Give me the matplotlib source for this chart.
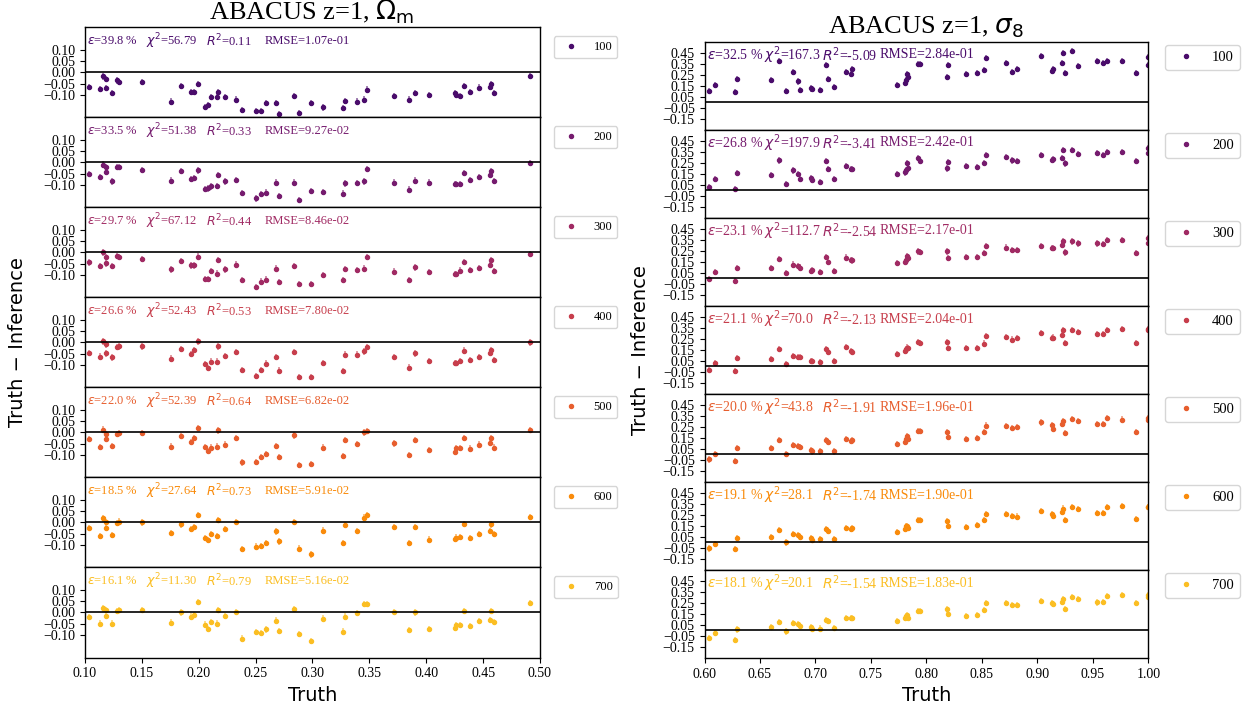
import numpy as np
import matplotlib.pyplot as plt
import matplotlib as mpl

plt.rcParams['font.family'] = 'serif'
plt.rcParams['font.serif'] = ['Liberation Serif', 'DejaVu Serif']
plt.rcParams['mathtext.fontset'] = 'dejavusans'

#%% Data
labels = ['100', '200', '300', '400', '500', '600', '700']

truth_om = [0.1032, 0.1133, 0.1162, 0.1186, 0.1189, 0.1233, 0.1283, 0.1298, 0.1499, 0.1758,
            0.1841, 0.1929, 0.1959, 0.1994, 0.2059, 0.2077, 0.2109, 0.2162, 0.2171, 0.2233,
            0.2330, 0.2378, 0.2507, 0.2549, 0.2593, 0.2678, 0.2705, 0.2841, 0.2882, 0.2985,
            0.3088, 0.3268, 0.3283, 0.3389, 0.3454, 0.3475, 0.3720, 0.3847, 0.3903, 0.4021,
            0.4257, 0.4262, 0.4295, 0.4336, 0.4381, 0.4460, 0.4561, 0.4572, 0.4593, 0.4909]

res_om_100 = [-0.065, -0.074, -0.018, -0.029, -0.071, -0.092, -0.036, -0.042, -0.042, -0.130,
              -0.062, -0.089, -0.088, -0.052, -0.153, -0.145, -0.111, -0.110, -0.087, -0.111,
              -0.121, -0.167, -0.171, -0.171, -0.135, -0.135, -0.186, -0.105, -0.180, -0.137,
              -0.156, -0.159, -0.126, -0.130, -0.121, -0.077, -0.106, -0.121, -0.091, -0.100,
              -0.094, -0.100, -0.105, -0.062, -0.088, -0.068, -0.065, -0.053, -0.091, -0.015]
res_om_200 = [-0.052, -0.064, -0.010, -0.021, -0.043, -0.085, -0.022, -0.022, -0.034, -0.081,
              -0.040, -0.075, -0.070, -0.036, -0.118, -0.116, -0.107, -0.104, -0.055, -0.085,
              -0.078, -0.137, -0.160, -0.140, -0.134, -0.090, -0.149, -0.090, -0.167, -0.128,
              -0.131, -0.139, -0.094, -0.091, -0.085, -0.031, -0.090, -0.121, -0.081, -0.090,
              -0.096, -0.096, -0.096, -0.048, -0.078, -0.064, -0.055, -0.039, -0.084, -0.004]
res_om_300 = [-0.045, -0.061, 0.000, -0.022, -0.049, -0.061, -0.016, -0.022, -0.028, -0.076,
              -0.037, -0.058, -0.058, -0.019, -0.119, -0.119, -0.082, -0.094, -0.034, -0.076,
              -0.054, -0.124, -0.155, -0.130, -0.121, -0.072, -0.133, -0.060, -0.142, -0.142,
              -0.101, -0.122, -0.073, -0.079, -0.072, -0.022, -0.085, -0.122, -0.067, -0.088,
              -0.097, -0.095, -0.081, -0.042, -0.079, -0.070, -0.055, -0.034, -0.084, -0.007]
res_om_400 = [-0.046, -0.063, 0.004, -0.009, -0.049, -0.067, -0.019, -0.018, -0.018, -0.072,
              -0.028, -0.052, -0.033, 0.004, -0.097, -0.113, -0.085, -0.085, -0.018, -0.061,
              -0.043, -0.122, -0.149, -0.122, -0.094, -0.064, -0.125, -0.042, -0.155, -0.155,
              -0.091, -0.127, -0.054, -0.054, -0.040, -0.021, -0.064, -0.112, -0.049, -0.082,
              -0.090, -0.090, -0.084, -0.036, -0.078, -0.066, -0.045, -0.033, -0.078, 0.000]
res_om_500 = [-0.030, -0.064, 0.013, -0.007, -0.030, -0.060, -0.007, -0.004, -0.004, -0.063,
              -0.016, -0.043, -0.025, 0.019, -0.066, -0.082, -0.067, -0.063, 0.009, -0.054,
              -0.025, -0.133, -0.130, -0.110, -0.097, -0.060, -0.109, -0.013, -0.145, -0.139,
              -0.067, -0.104, -0.034, -0.052, 0.000, 0.006, -0.049, -0.099, -0.034, -0.078,
              -0.085, -0.070, -0.070, -0.025, -0.072, -0.054, -0.046, -0.025, -0.067, 0.010]
res_om_600 = [-0.025, -0.060, 0.018, -0.025, 0.003, -0.057, -0.003, 0.004, 0.000, -0.046,
              -0.009, -0.030, -0.019, 0.033, -0.070, -0.079, -0.051, -0.060, 0.012, -0.030,
              0.001, -0.118, -0.107, -0.106, -0.090, -0.040, -0.084, 0.003, -0.116, -0.142,
              -0.036, -0.091, -0.010, -0.037, 0.022, 0.034, -0.021, -0.091, -0.021, -0.076,
              -0.073, -0.067, -0.066, -0.007, -0.069, -0.052, -0.039, -0.009, -0.052, 0.024]
res_om_700 = [-0.019, -0.049, 0.018, 0.010, -0.016, -0.049, 0.006, 0.010, 0.010, -0.045,
              0.000, -0.018, -0.012, 0.048, -0.054, -0.072, -0.043, -0.049, 0.010, -0.016,
              0.003, -0.116, -0.087, -0.091, -0.075, -0.036, -0.082, 0.015, -0.097, -0.128,
              -0.027, -0.085, -0.018, -0.003, 0.037, 0.039, 0.003, -0.079, 0.000, -0.073,
              -0.069, -0.057, -0.057, 0.007, -0.061, -0.037, -0.034, 0.007, -0.043, 0.043]

truth_s8 = [0.6039, 0.6099, 0.6272, 0.6291, 0.6601, 0.6671, 0.6733, 0.6796, 0.6845, 0.6857,
            0.6956, 0.6967, 0.7040, 0.7091, 0.7115, 0.7169, 0.7277, 0.7316, 0.7333, 0.7737,
            0.7806, 0.7815, 0.7826, 0.7837, 0.7919, 0.7938, 0.8189, 0.8190, 0.8354, 0.8454,
            0.8518, 0.8540, 0.8714, 0.8769, 0.8812, 0.9028, 0.9131, 0.9136, 0.9222, 0.9228,
            0.9244, 0.9307, 0.9367, 0.9533, 0.9593, 0.9623, 0.9757, 0.9884, 0.9993, 1.0000]

res_s8_100 = [0.100, 0.155, 0.092, 0.210, 0.201, 0.378, 0.100, 0.271, 0.189, 0.113,
              0.125, 0.122, 0.110, 0.338, 0.210, 0.140, 0.277, 0.256, 0.299, 0.158,
              0.171, 0.201, 0.253, 0.232, 0.348, 0.345, 0.229, 0.341, 0.259, 0.265,
              0.290, 0.402, 0.360, 0.274, 0.299, 0.421, 0.287, 0.302, 0.354, 0.445,
              0.262, 0.466, 0.332, 0.372, 0.354, 0.378, 0.372, 0.262, 0.408, 0.338]
res_s8_200 = [0.030, 0.104, 0.012, 0.155, 0.140, 0.271, 0.058, 0.180, 0.146, 0.101,
              0.107, 0.095, 0.076, 0.265, 0.192, 0.101, 0.223, 0.192, 0.192, 0.146,
              0.162, 0.180, 0.247, 0.204, 0.296, 0.268, 0.198, 0.259, 0.223, 0.210,
              0.250, 0.323, 0.299, 0.271, 0.268, 0.320, 0.277, 0.280, 0.293, 0.369,
              0.244, 0.369, 0.326, 0.338, 0.323, 0.345, 0.351, 0.265, 0.384, 0.335]
res_s8_300 = [-0.009, 0.061, -0.024, 0.091, 0.091, 0.174, 0.046, 0.125, 0.113, 0.098,
              0.067, 0.076, 0.058, 0.192, 0.152, 0.067, 0.189, 0.168, 0.162, 0.137,
              0.146, 0.168, 0.204, 0.189, 0.244, 0.238, 0.244, 0.186, 0.192, 0.192,
              0.229, 0.293, 0.280, 0.259, 0.256, 0.293, 0.274, 0.274, 0.299, 0.335,
              0.235, 0.335, 0.317, 0.317, 0.311, 0.345, 0.351, 0.232, 0.363, 0.320]
res_s8_400 = [-0.030, 0.030, -0.043, 0.073, 0.067, 0.159, 0.018, 0.091, 0.085, 0.085,
              0.052, 0.052, 0.040, 0.155, 0.134, 0.052, 0.174, 0.137, 0.131, 0.110,
              0.137, 0.155, 0.171, 0.165, 0.220, 0.216, 0.223, 0.171, 0.168, 0.168,
              0.207, 0.274, 0.265, 0.244, 0.256, 0.302, 0.256, 0.262, 0.287, 0.326,
              0.210, 0.329, 0.314, 0.296, 0.296, 0.332, 0.338, 0.213, 0.341, 0.329]
res_s8_500 = [-0.046, 0.006, -0.058, 0.055, 0.055, 0.134, 0.003, 0.088, 0.073, 0.064,
              0.043, 0.027, 0.027, 0.131, 0.110, 0.027, 0.143, 0.125, 0.128, 0.098,
              0.113, 0.140, 0.165, 0.143, 0.210, 0.210, 0.204, 0.155, 0.143, 0.146,
              0.201, 0.262, 0.256, 0.238, 0.247, 0.290, 0.268, 0.235, 0.274, 0.302,
              0.195, 0.320, 0.302, 0.280, 0.280, 0.329, 0.317, 0.201, 0.330, 0.315]
res_s8_600 = [-0.055, -0.015, -0.061, 0.037, 0.049, 0.113, 0.000, 0.079, 0.067, 0.049,
              0.040, 0.021, 0.027, 0.119, 0.101, 0.034, 0.134, 0.119, 0.131, 0.098,
              0.122, 0.146, 0.149, 0.131, 0.201, 0.201, 0.198, 0.152, 0.140, 0.155,
              0.204, 0.262, 0.256, 0.238, 0.235, 0.287, 0.259, 0.244, 0.274, 0.308,
              0.207, 0.320, 0.302, 0.265, 0.271, 0.320, 0.329, 0.213, 0.323, 0.323]
res_s8_700 = [-0.068, -0.022, -0.083, 0.009, 0.028, 0.080, -0.009, 0.071, 0.062, 0.040,
              0.031, 0.018, 0.018, 0.092, 0.089, 0.022, 0.117, 0.114, 0.114, 0.086,
              0.111, 0.132, 0.142, 0.111, 0.175, 0.175, 0.191, 0.148, 0.132, 0.138,
              0.188, 0.246, 0.246, 0.234, 0.228, 0.268, 0.249, 0.243, 0.262, 0.286,
              0.194, 0.305, 0.286, 0.255, 0.258, 0.317, 0.323, 0.246, 0.302, 0.326]

err_om = 0.014
err_s8 = 0.028

# statistics printed in each panel
eps_om = ['39.8', '33.5', '29.7', '26.6', '22.0', '18.5', '16.1']
chi2_om = ['56.79', '51.38', '67.12', '52.43', '52.39', '27.64', '11.30']
r2_om = ['0.11', '0.33', '0.44', '0.53', '0.64', '0.73', '0.79']
rmse_om = ['1.07e-01', '9.27e-02', '8.46e-02', '7.80e-02', '6.82e-02', '5.91e-02', '5.16e-02']

eps_s8 = ['32.5', '26.8', '23.1', '21.1', '20.0', '19.1', '18.1']
chi2_s8 = ['167.3', '197.9', '112.7', '70.0', '43.8', '28.1', '20.1']
r2_s8 = ['-5.09', '-3.41', '-2.54', '-2.13', '-1.91', '-1.74', '-1.54']
rmse_s8 = ['2.84e-01', '2.42e-01', '2.17e-01', '2.04e-01', '1.96e-01', '1.90e-01', '1.83e-01']

res_om = [res_om_100, res_om_200, res_om_300, res_om_400, res_om_500, res_om_600, res_om_700]
res_s8 = [res_s8_100, res_s8_200, res_s8_300, res_s8_400, res_s8_500, res_s8_600, res_s8_700]

colors = plt.cm.inferno(np.linspace(0.22, 0.85, 7))

#%% Figure
W, H = 1242, 709
fig = plt.figure(figsize=(W/100, H/100), dpi=100)


def make_column(x0, x1, y_top, y_bot, truth, res_list, err, stats, xlim, ylim,
                yticks, xticks, txt_size, leg_size, leg_anchor):
    h = (y_bot - y_top) / 7
    axes = []
    for i in range(7):
        top = y_top + i*h
        ax = fig.add_axes([x0/W, 1-(top+h)/H, (x1-x0)/W, h/H])
        c = colors[i]
        ax.errorbar(truth, res_list[i], yerr=err, fmt='none',
                    ecolor=(c[0], c[1], c[2], 0.6), elinewidth=1.2)
        ax.plot(truth, res_list[i], 'o', ms=2.9, color=c, label=labels[i])
        ax.axhline(0, color='k', lw=1.2)
        ax.set_xlim(xlim)
        ax.set_ylim(ylim)
        ax.set_yticks(yticks)
        ax.set_yticklabels([('%.2f' % v).replace('-', '\u2212') for v in yticks],
                           fontsize=10)
        ax.set_xticks(xticks)
        if i < 6:
            ax.tick_params(axis='x', bottom=False, labelbottom=False)
        else:
            ax.set_xticklabels(['%.2f' % v for v in xticks], fontsize=10)
        for s in ax.spines.values():
            s.set_linewidth(1.0)
        e, chi, r2, rm = stats[0][i], stats[1][i], stats[2][i], stats[3][i]
        parts = [r'$\varepsilon$=' + e + ' %', r'$\chi^2$=' + chi,
                 r'$R^2$=' + r2, 'RMSE=' + rm]
        for xp, p in zip([0.005, 0.135, 0.265, 0.395], parts):
            ax.text(xp, 0.85, p, transform=ax.transAxes, color=c,
                    fontsize=txt_size, va='center', ha='left')
        ax.legend(loc='upper left', bbox_to_anchor=leg_anchor, borderaxespad=0,
                  fontsize=leg_size, numpoints=1)
        axes.append(ax)
    return axes


ax_om = make_column(85, 540, 27.3, 657.5, truth_om, res_om, err_om,
                    (eps_om, chi2_om, r2_om, rmse_om), (0.10, 0.50), (-0.2, 0.2),
                    [0.10, 0.05, 0.00, -0.05, -0.10], np.arange(0.10, 0.501, 0.05),
                    9, 9, (1.03, 0.9))
ax_s8 = make_column(704.5, 1148.5, 41.7, 658, truth_s8, res_s8, err_s8,
                    (eps_s8, chi2_s8, r2_s8, rmse_s8), (0.60, 1.00), (-0.25, 0.55),
                    [0.45, 0.35, 0.25, 0.15, 0.05, -0.05, -0.15], np.arange(0.60, 1.001, 0.05),
                    10, 10.5, (1.038, 0.965))

ax_om[-1].set_xlabel('Truth', family='DejaVu Sans', fontsize=14, labelpad=4)
ax_s8[-1].set_xlabel('Truth', family='DejaVu Sans', fontsize=14, labelpad=4)

fig.text(18/W, 1-342/H, 'Truth \u2212 Inference', rotation=90, family='DejaVu Sans',
         fontsize=14, ha='center', va='center')
fig.text(641/W, 1-350/H, 'Truth \u2212 Inference', rotation=90, family='DejaVu Sans',
         fontsize=14, ha='center', va='center')

fig.text(312/W, 1-20/H, r'ABACUS z=1, $\Omega_{\rm m}$', fontsize=19,
         ha='center', va='baseline')
fig.text(926/W, 1-34/H, r'ABACUS z=1, $\sigma_8$', fontsize=19,
         ha='center', va='baseline')

fig.savefig('out.png', dpi=100)
